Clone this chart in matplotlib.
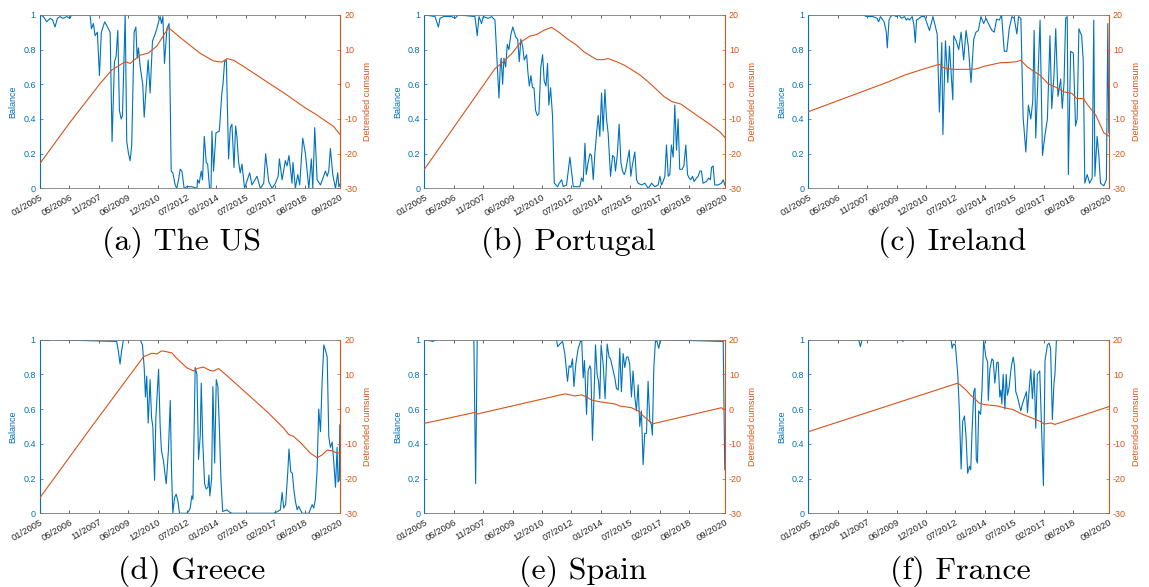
import matplotlib.pyplot as plt

plt.rcParams['font.family'] = ['Liberation Sans', 'DejaVu Sans']

blue = '#0072BD'
orange = '#D95319'

tick_pos = [0, 18.4, 36.8, 55.2, 73.6, 92, 110.4, 128.8, 147.2, 165.6, 188]
tick_lab = ['01/2005', '05/2006', '11/2007', '06/2009', '12/2010', '07/2012',
            '01/2014', '07/2015', '02/2017', '08/2018', '09/2020']

# months since 01/2005 -> balance / detrended cumsum

# The US
us_t = [0, 2.1, 4.2, 6.3, 7.9, 9.4, 10.9, 12.5, 14.6, 16.7, 18.8, 19.8, 31.3, 32.2, 33.4, 34.5, 35.9, 37.2, 38.4, 40.5,
        42.2, 43.9, 45.1, 46.6, 47.6, 48.7, 49.7, 50.8, 51.6, 53.3, 54.3, 55.4, 56.4, 57.4, 58.9, 60, 60.8, 61.6, 62.7, 64.3,
        65.2, 66.2, 67.7, 68.9, 70.4, 71.7, 73.1, 74.2, 75.2, 76, 76.9, 77.9, 79.4, 80.8, 82.1, 83.1, 84.6, 85.6, 86.7, 87.7,
        88.8, 90.2, 91.9, 95, 98.2, 98.6, 99.6, 100.9, 101.7, 102.8, 104, 104.9, 106.1, 107, 107.6, 108.6, 110.1, 112.2, 113.8, 114.5,
        115.5, 116.6, 118, 119.1, 120.1, 121.4, 122.4, 123.2, 124.3, 125.3, 126.4, 128, 131.2, 132.6, 135.8, 137.9, 140, 141.2, 143.1, 145.2,
        147.3, 149, 149.8, 151.5, 153.5, 154.6, 155.8, 157.7, 158.3, 159.8, 161.3, 162.5, 164.4, 166.1, 168.2, 169.8, 170.7, 171.9, 173.4, 175.5,
        178.6, 179.7, 180.7, 181.7, 183.2, 184.9, 186.3, 187, 188]
us_bal = [1.0, 0.99, 0.96, 0.98, 0.97, 0.93, 0.98, 0.99, 0.98, 0.99, 0.98, 1.0, 1.0, 0.92, 0.95, 0.88, 0.9, 0.65, 0.9, 0.96,
          0.93, 0.9, 0.27, 0.73, 0.76, 0.91, 0.45, 0.4, 0.42, 1.0, 0.27, 0.2, 0.16, 0.25, 0.9, 0.93, 0.75, 0.81, 0.7, 0.6,
          0.41, 0.55, 0.74, 0.55, 0.85, 0.88, 0.92, 0.96, 0.99, 0.95, 0.99, 0.72, 0.92, 0.95, 0.1, 0.09, 0.02, 0.0, 0.05, 0.11,
          0.1, 0.0, 0.01, 0.01, 0.0, 0.05, 0.03, 0.1, 0.05, 0.3, 0.15, 0.14, 0.0, 0.0, 0.33, 0.1, 0.32, 0.33, 0.55, 0.6,
          0.73, 0.74, 0.17, 0.35, 0.37, 0.12, 0.36, 0.3, 0.15, 0.09, 0.14, 0.0, 0.09, 0.02, 0.07, 0.0, 0.03, 0.2, 0.04, 0.0,
          0.03, 0.07, 0.17, 0.05, 0.16, 0.13, 0.19, 0.03, 0.15, 0.0, 0.08, 0.02, 0.29, 0.2, 0.0, 0.17, 0.0, 0.35, 0.05, 0.02,
          0.1, 0.07, 0.1, 0.23, 0.08, 0.0, 0.09, 0.01, 0.03]
us_ct = [0, 18.2, 37.6, 44.9, 48, 53.3, 56.4, 62.7, 67.9, 73.1, 80.4, 89.8, 100.3, 108.6, 113.8, 117, 121.2, 128.5,
         142, 154.6, 165, 173.4, 183.8, 188]
us_cum = [-22.8, -11.3, 0.2, 4.1, 5.0, 6.5, 6.0, 8.4, 9.0, 11.0, 16.3, 12.7, 8.9, 6.7, 6.4, 7.4, 6.9, 4.8,
          0.7, -3.1, -6.5, -8.9, -12.2, -14.6]

# Portugal
pt_t = [0, 6.7, 8.8, 9.8, 11.9, 17.1, 19.2, 21.3, 31.7, 33.1, 34.2, 35.8, 36.9, 40, 42.1, 44.2, 46.7, 47.5, 48.1, 49,
        49.8, 50.9, 51.9, 52.9, 54.2, 55.4, 56.3, 57.3, 58.4, 59.4, 60.4, 61.5, 62.5, 64, 64.8, 65.7, 66.7, 67.7, 68.6, 69.6,
        70.7, 71.7, 72.9, 74, 75, 76.1, 77.1, 77.9, 79, 80.2, 81.3, 82.3, 83.4, 84.4, 85.9, 86.9, 89, 91.1, 92.1, 93.2,
        97.3, 98.4, 99.4, 100.5, 101.3, 102.5, 103.6, 104.6, 105.7, 106.7, 107.8, 108.8, 109.8, 110.9, 111.9, 113, 114, 115, 116.5, 117.8,
        118.8, 119.6, 120.7, 121.9, 123, 124, 125.1, 125.9, 128.2, 129.2, 130.1, 131.7, 132.8, 133.8, 135.9, 138, 140.1, 142.2, 144.2, 146.3,
        147.4, 148.4, 149.4, 150.5, 151.5, 152.6, 153.6, 154.6, 155.7, 156.7, 157.8, 158.8, 159.8, 161.3, 162.4, 163.6, 164.7, 165.7, 166.7, 167.8,
        168.8, 170.3, 171.3, 172.4, 173.4, 174.4, 176.5, 178, 179, 179.7, 180.7, 181.7, 183.8, 185.9, 187, 188]
pt_bal = [1.0, 0.99, 0.93, 0.98, 0.99, 0.99, 0.98, 1.0, 0.99, 0.88, 0.99, 0.95, 0.99, 0.98, 0.99, 0.97, 0.52, 0.7, 0.75, 0.6,
          0.75, 0.7, 0.83, 0.8, 0.89, 0.93, 0.9, 0.87, 0.86, 0.73, 0.86, 0.82, 0.74, 0.77, 0.67, 0.59, 0.65, 0.58, 0.58, 0.45,
          0.42, 0.43, 0.7, 0.77, 0.62, 0.59, 0.72, 0.48, 0.58, 0.42, 0.03, 0.02, 0.01, 0.03, 0.05, 0.01, 0.02, 0.18, 0.1, 0.01,
          0.01, 0.06, 0.04, 0.26, 0.08, 0.15, 0.2, 0.19, 0.05, 0.2, 0.32, 0.42, 0.3, 0.55, 0.33, 0.57, 0.4, 0.32, 0.07, 0.19,
          0.18, 0.1, 0.19, 0.37, 0.15, 0.1, 0.08, 0.1, 0.22, 0.07, 0.13, 0.21, 0.05, 0.03, 0.02, 0.03, 0.0, 0.03, 0.01, 0.02,
          0.07, 0.02, 0.04, 0.07, 0.25, 0.07, 0.08, 0.25, 0.18, 0.48, 0.22, 0.4, 0.11, 0.11, 0.13, 0.25, 0.08, 0.06, 0.05, 0.07,
          0.04, 0.06, 0.07, 0.1, 0.1, 0.03, 0.04, 0.06, 0.05, 0.12, 0.13, 0.02, 0.02, 0.03, 0.05, 0.02]
pt_ct = [0, 44.2, 50, 55.2, 60.4, 66.1, 70.2, 75, 79.6, 84.8, 90, 95.2, 100, 105, 108, 111.9, 115, 120.3, 125.1, 130.1,
         135.1, 140.1, 145.3, 150.1, 155.1, 160.5, 163, 170.3, 178, 184.9, 188]
pt_cum = [-24.5, 4.5, 6.7, 9.1, 12.2, 13.9, 14.3, 15.6, 16.4, 14.8, 12.9, 11.3, 9.3, 7.9, 7.1, 7.1, 7.4, 6.5, 5.5, 4.1,
          2.6, 0.7, -1.5, -3.6, -5.0, -5.7, -6.5, -8.9, -11.3, -13.7, -15.3]

# Ireland
ie_t = [0, 17.7, 34.3, 36.4, 40.5, 43, 44, 45.1, 47.4, 48.8, 49.4, 50.5, 51.5, 53, 55, 56.7, 58.2, 60.2, 61.3, 62.3,
        63.4, 65, 66.1, 66.9, 67.7, 68.6, 70.7, 72.8, 75.8, 78, 80.6, 82, 83.5, 84.2, 85.8, 87.3, 88.3, 90.4, 91, 92.5,
        94.1, 95.6, 97.2, 98.7, 100.1, 101.8, 103.5, 104.9, 106.4, 108, 109.7, 111.2, 113.2, 114.9, 116.3, 117.8, 119.5, 120.9, 122.6, 124.2,
        125.7, 127.4, 128.8, 130.5, 131.5, 133, 134.4, 136.1, 137.7, 139.2, 140.4, 141.3, 142.3, 145, 146.5, 148.1, 149.6, 151.2, 152.3, 153.7,
        154.8, 156.2, 157.9, 158.9, 160, 161, 162, 162.7, 164.1, 165.8, 167.2, 168.2, 169.3, 171, 172, 173, 174.5, 176, 177.6, 178.6,
        179.3, 180.7, 181.8, 182.8, 184.9, 186.5, 187.4, 188]
ie_bal = [1.0, 1.0, 1.0, 0.99, 0.99, 0.98, 0.96, 0.99, 0.96, 0.9, 0.81, 0.97, 0.99, 1.0, 0.99, 1.0, 0.98, 0.99, 0.97, 0.98,
          0.97, 0.99, 0.94, 0.84, 0.97, 0.975, 0.99, 0.99, 0.91, 0.99, 0.89, 0.44, 0.84, 0.31, 0.85, 0.61, 0.82, 0.51, 0.88, 0.85,
          0.8, 0.9, 0.74, 0.91, 0.82, 0.61, 0.86, 0.9, 0.91, 0.99, 0.95, 0.98, 0.94, 0.91, 0.9, 0.975, 0.97, 1.0, 0.79, 0.79,
          0.92, 0.99, 0.98, 0.89, 0.99, 0.98, 0.41, 0.21, 0.48, 0.4, 0.5, 0.91, 0.29, 0.97, 0.19, 0.31, 0.4, 0.88, 0.46, 0.65,
          0.92, 0.53, 0.63, 0.46, 0.61, 0.98, 0.99, 0.08, 0.79, 0.78, 0.36, 0.4, 0.92, 0.88, 0.74, 0.03, 0.08, 0.03, 0.06, 0.97,
          0.07, 0.3, 0.19, 0.03, 0.015, 0.05, 0.95, 0.32]
ie_ct = [0, 50.1, 60, 70, 80, 82, 85, 90, 99.9, 104.9, 110.1, 120.1, 125.1, 130, 132.9, 137.1, 140.8, 145, 150, 155,
         160, 164.9, 168, 172, 174.9, 179.9, 184.9, 188]
ie_cum = [-7.9, 0.7, 2.6, 4.1, 5.5, 5.7, 4.7, 4.3, 4.3, 4.4, 5.2, 6.2, 6.3, 6.5, 6.9, 5.0, 3.8, 2.6, 0.2, -0.9,
          -2.2, -2.6, -4.1, -4.1, -6.0, -8.9, -14.0, -14.9]

# Greece
gr_t = [0, 5.2, 7.3, 48, 49.1, 50.1, 51, 52.2, 62.7, 64.1, 65.2, 66, 66.8, 67.7, 68.9, 69.8, 70.6, 71.7, 72.5, 74.2,
        75.2, 76, 77.3, 78.3, 79, 80.4, 81.5, 82.3, 83.1, 84.2, 85.2, 86.3, 87.3, 91.9, 93, 94, 95, 95.7, 97.1, 98.2,
        99.2, 100.3, 100.9, 101.9, 103, 104, 105.1, 105.7, 106.3, 107.4, 108.2, 109.3, 110.3, 111.3, 112.2, 113.2, 114.3, 117, 118, 120.1,
        146.2, 148.7, 150.4, 151.5, 152.5, 153.7, 155, 155.8, 156.9, 157.9, 158.8, 159.8, 160.9, 161.9, 162.9, 164, 168.2, 170.3, 171.3, 172.3,
        173.4, 174.4, 175.5, 176.5, 177.6, 178.6, 179.7, 180.7, 181.7, 182.8, 183.8, 184.9, 185.9, 186.5, 187.2, 187.6, 188]
gr_bal = [1.0, 0.995, 1.0, 0.99, 0.93, 0.86, 0.93, 1.0, 1.0, 0.97, 0.84, 0.67, 0.79, 0.52, 0.77, 0.55, 0.5, 0.19, 0.55, 0.83,
          0.5, 0.36, 0.3, 0.22, 0.17, 0.37, 0.65, 0.25, 0.0, 0.09, 0.11, 0.07, 0.0, 0.0, 0.01, 0.03, 0.1, 0.08, 0.84, 0.8,
          0.31, 0.45, 0.75, 0.4, 0.17, 0.14, 0.15, 0.22, 0.1, 0.2, 0.73, 0.29, 0.77, 0.73, 0.5, 0.2, 0.01, 0.02, 0.01, 0.0,
          0.0, 0.01, 0.02, 0.12, 0.03, 0.05, 0.23, 0.37, 0.24, 0.23, 0.14, 0.07, 0.02, 0.04, 0.02, 0.0, 0.0, 0.05, 0.03, 0.08,
          0.25, 0.6, 0.47, 0.75, 0.97, 0.94, 0.9, 0.44, 0.38, 0.41, 0.3, 0.15, 0.38, 0.18, 0.19, 0.51, 0.2]
gr_ct = [0, 31.3, 64.8, 70, 73.1, 76.2, 79.4, 82.5, 85.6, 91.9, 96.1, 98.2, 102.4, 106.5, 108.6, 111.8, 114.9, 121.2, 142, 152.5,
         155.6, 158.8, 162.9, 169.2, 173.4, 176.5, 179.7, 182.8, 184.9, 188]
gr_cum = [-25.5, -5.7, 15.1, 16.1, 15.9, 16.8, 16.5, 16.2, 14.6, 11.9, 11.0, 11.7, 12.1, 11.1, 11.0, 11.7, 10.5, 7.9, -0.7, -5.5,
          -7.3, -7.9, -9.6, -12.7, -14.0, -13.2, -11.8, -12.0, -12.5, -12.7]

# Spain
es_t = [0, 5.6, 7, 31, 32.1, 33.1, 82.7, 83.4, 84.8, 86.5, 87.9, 89.6, 90.6, 91.7, 92.7, 93.6, 94.8, 96.3, 97.7, 98.5,
        99.4, 100.2, 101.5, 102.5, 103.6, 104.2, 105.2, 106.3, 107.1, 108.1, 109, 109.8, 110.6, 111.9, 113.1, 114.4, 115.6, 116.5, 117.7, 119.2,
        120.2, 121.3, 122.3, 123.3, 124.4, 125.4, 126.5, 127.5, 128.5, 129.6, 130.6, 131.7, 132.7, 133.8, 134.8, 135.8, 136.9, 137.9, 139, 140,
        141.1, 142.1, 142.7, 143.6, 144.6, 145.6, 146.7, 147.7, 187, 188]
es_bal = [1.0, 0.99, 1.0, 1.0, 0.17, 1.0, 1.0, 0.96, 0.975, 0.99, 0.92, 0.76, 0.85, 0.84, 0.89, 0.73, 0.86, 0.95, 0.99, 0.99,
          0.78, 0.88, 0.57, 0.82, 0.85, 0.83, 0.42, 0.71, 0.97, 0.8, 0.76, 0.66, 0.97, 0.86, 0.66, 0.975, 0.9, 0.89, 0.84, 0.78,
          0.72, 0.71, 0.95, 0.7, 0.92, 0.84, 0.9, 0.9, 0.86, 0.67, 0.82, 0.67, 0.59, 0.74, 0.5, 0.59, 0.28, 0.46, 0.46, 0.76,
          0.53, 0.51, 0.45, 0.84, 0.99, 0.99, 0.95, 1.0, 0.99, 0.25]
es_ct = [0, 32.1, 33.1, 88, 91.1, 94.2, 98.4, 101.1, 104.6, 108.8, 113, 119.2, 122.3, 125.5, 129.6, 133.8, 136.9, 141.1,
         143.2, 185.9, 188]
es_cum = [-4.1, -0.9, -1.4, 4.4, 4.1, 3.8, 4.1, 3.6, 2.6, 2.2, 1.9, 1.5, 0.9, 0.7, 0.4, -0.5, -1.9, -3.6,
          -4.2, 0.4, -0.2]

# France
fr_t = [0, 31.5, 32.6, 33.6, 58.5, 59.2, 60, 89.3, 90, 90.8, 92, 93.5, 94.5, 95.6, 96.6, 97.7, 98.7, 99.7, 100.8, 101.6,
        102.4, 103.5, 104.3, 105.1, 105.8, 106.6, 107.8, 108.7, 109.7, 111.1, 112.2, 112.6, 113.6, 114.9, 115.7, 116.7, 118, 118.8, 119.8, 120.5,
        121.1, 121.9, 123, 123.8, 124.6, 125.7, 126.7, 127.3, 128.2, 129, 129.8, 130.9, 131.9, 132.9, 134, 135, 136.5, 137.1, 139.2, 140.2,
        141.3, 142.3, 143.3, 144.8, 147.1, 148.1, 149.6, 150.6, 151.6, 152.7, 153.7, 154.3, 155.2, 155.8, 188]
fr_bal = [1.0, 1.0, 0.96, 1.0, 1.0, 0.99, 1.0, 1.0, 0.95, 0.975, 0.97, 0.8, 0.59, 0.255, 0.53, 0.56, 0.44, 0.23, 0.27, 0.25,
          0.46, 0.7, 0.72, 0.31, 0.29, 0.59, 0.57, 0.72, 0.995, 0.9, 0.87, 0.65, 0.83, 0.89, 0.88, 0.75, 0.87, 0.87, 0.67, 0.71,
          0.63, 0.8, 0.6, 0.8, 0.68, 0.73, 0.82, 0.86, 0.9, 0.85, 0.7, 0.67, 0.63, 0.59, 0.63, 0.66, 0.7, 0.58, 0.83, 0.66,
          0.82, 0.49, 0.8, 0.82, 0.16, 0.88, 0.97, 0.98, 0.95, 0.54, 0.75, 0.8, 0.99, 1.0, 1.0]
fr_ct = [0, 92.9, 94.5, 98.7, 101.4, 103.9, 107, 109.1, 114.2, 118.4, 122.6, 127.8, 134, 140.2, 145.4, 147.5, 151.6, 154.3, 188]
fr_cum = [-6.5, 7.4, 7.2, 5.5, 4.1, 3.1, 1.7, 1.4, 1.1, 0.9, 0.4, -0.1, -1.5, -2.6, -3.6, -4.3, -4.0, -4.4, 0.7]

captions = ['(a) The US', '(b) Portugal', '(c) Ireland', '(d) Greece', '(e) Spain', '(f) France']
series = [(us_t, us_bal, us_ct, us_cum), (pt_t, pt_bal, pt_ct, pt_cum), (ie_t, ie_bal, ie_ct, ie_cum),
          (gr_t, gr_bal, gr_ct, gr_cum), (es_t, es_bal, es_ct, es_cum), (fr_t, fr_bal, fr_ct, fr_cum)]

fig = plt.figure(figsize=(11.49, 5.87), dpi=100)

lefts = [0.0348, 0.3693, 0.7035]
bottoms = [0.679, 0.1256]
w, h = 0.2615, 0.2957
# caption centres, one per subfigure
cap_xy = [(0.158, 0.588), (0.495, 0.588), (0.829, 0.588),
          (0.167, 0.027), (0.507, 0.027), (0.836, 0.027)]


def draw(ax, t, bal, ct, cum):
    ax.plot(t, bal, color=blue, lw=0.8)
    ax.set_xlim(0, 188)
    ax.set_ylim(0, 1)
    ax.set_xticks(tick_pos)
    ax.set_xticklabels(tick_lab, rotation=30, ha='right', rotation_mode='anchor', fontsize=6.8, color='#262626')
    ax.set_yticks([0, 0.2, 0.4, 0.6, 0.8, 1])
    ax.set_yticklabels(['0', '0.2', '0.4', '0.6', '0.8', '1'], fontsize=6.5)
    ax.tick_params(axis='x', direction='in', length=2.5, width=0.5, top=True, pad=3, colors='#262626')
    ax.tick_params(axis='y', direction='in', length=2.5, width=0.5, colors=blue, pad=3)
    ax.set_ylabel('Balance', color=blue, fontsize=6.5, labelpad=4)
    for s in ['top', 'bottom']:
        ax.spines[s].set_color('#7a7a7a')
        ax.spines[s].set_linewidth(0.6)
    ax.spines['left'].set_color(blue)
    ax.spines['right'].set_visible(False)

    ax2 = ax.twinx()
    ax2.plot(ct, cum, color=orange, lw=0.8)
    ax2.set_ylim(-30, 20)
    ax2.set_yticks([-30, -20, -10, 0, 10, 20])
    ax2.set_yticklabels(['-30', '-20', '-10', '0', '10', '20'], fontsize=6.5)
    ax2.tick_params(axis='y', direction='in', length=2.5, width=0.5, colors=orange, pad=3)
    ax2.set_ylabel('Detrended cumsum', color=orange, fontsize=6.5, labelpad=4)
    for s in ['top', 'bottom', 'left']:
        ax2.spines[s].set_visible(False)
    ax2.spines['right'].set_color(orange)


for i, (t, bal, ct, cum) in enumerate(series):
    r, c = divmod(i, 3)
    ax = fig.add_axes([lefts[c], bottoms[r], w, h])
    draw(ax, t, bal, ct, cum)
    fig.text(cap_xy[i][0], cap_xy[i][1], captions[i], family='cmr10', fontsize=23, ha='center', va='center')

fig.savefig('out.png', dpi=100)
